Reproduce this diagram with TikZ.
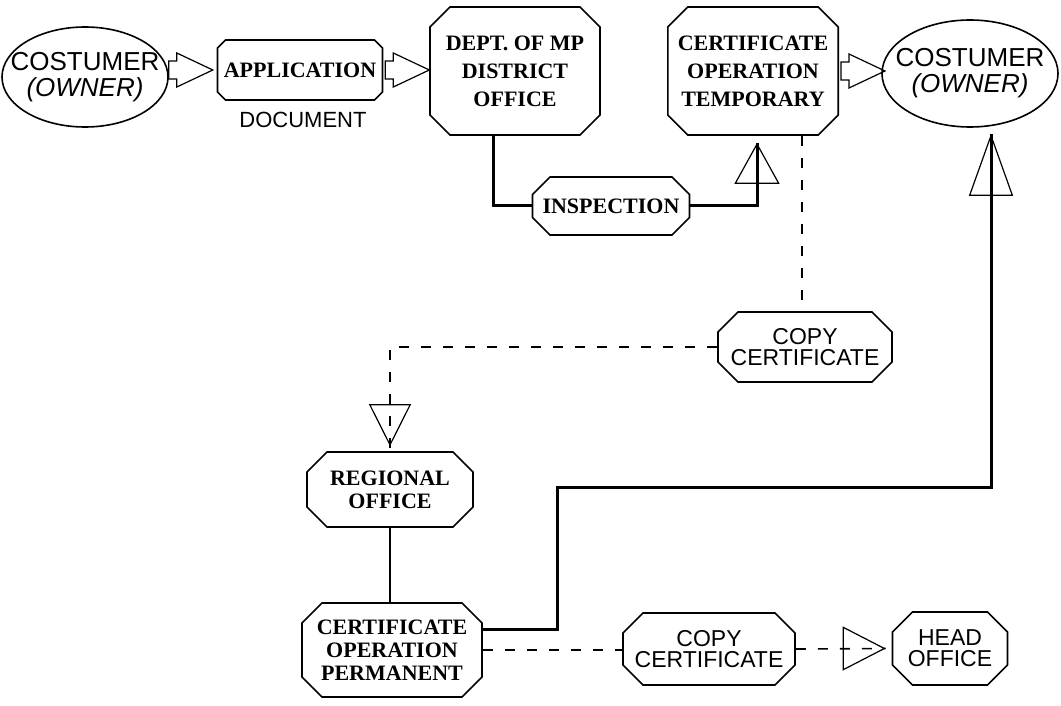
\documentclass[tikz,border=0pt]{standalone}
\usepackage{fontspec}
\setmainfont{Liberation Serif}
\setsansfont{Liberation Sans}
\usetikzlibrary{shapes.geometric,shapes.misc,arrows.meta}

\tikzset{
  box/.style={draw, line width=0.8pt, chamfered rectangle,
    chamfered rectangle xsep=5pt, chamfered rectangle ysep=5pt,
    inner sep=0pt, align=center, font=\bfseries\fontsize{11}{14}\selectfont},
  lowbox/.style={box, font=\bfseries\fontsize{11}{11.5}\selectfont},
  sansbox/.style={box, font=\sffamily\fontsize{11.5}{10.5}\selectfont},
  oval/.style={draw, line width=0.8pt, ellipse, inner xsep=-10pt, inner ysep=0pt,
    align=center, font=\sffamily\fontsize{13}{13}\selectfont},
  sidetext/.style={font=\sffamily\fontsize{11}{11}\selectfont},
  thickline/.style={line width=1.5pt},
  thinline/.style={line width=0.7pt},
  dashline/.style={line width=0.8pt, dash pattern=on 5pt off 6pt},
  opentip/.style 2 args={line width=0.6pt, -{Triangle[open, length=#1, width=#2]}},
  blockarrow/.pic={\draw[line width=0.6pt] (0,-9) -- (8,-9) -- (8,-17) -- (44,0)
    -- (8,17) -- (8,9) -- (0,9) -- cycle;}
}

\begin{document}
\begin{tikzpicture}[x=0.5pt,y=-0.5pt]
  \useasboundingbox (0,0) rectangle (1061,706);

  % top row
  \node[oval, minimum width=83pt, minimum height=50pt] (cust1) at (85,77) {COSTUMER\\\textit{(OWNER)}};
  \node[box, minimum width=82.5pt, minimum height=30pt,
    chamfered rectangle xsep=2pt, chamfered rectangle ysep=2pt] (app) at (300,70) {APPLICATION};
  \node[sidetext] (doc) at (303,120) {DOCUMENT};
  \node[box, minimum width=85pt, minimum height=64pt] (dept) at (515,71) {DEPT. OF MP\\DISTRICT\\OFFICE};
  \node[box, minimum width=85pt, minimum height=64pt] (temp) at (753,71) {CERTIFICATE\\OPERATION\\TEMPORARY};
  \node[oval, minimum width=88pt, minimum height=53.5pt] (cust2) at (970,73.5) {COSTUMER\\\textit{(OWNER)}};
  \node[box, minimum width=78.5pt, minimum height=29pt] (insp) at (611,206) {INSPECTION};

  % lower part
  \node[sansbox, minimum width=87pt, minimum height=35pt] (copy1) at (805,347) {COPY\\CERTIFICATE};
  \node[lowbox, minimum width=83pt, minimum height=37.5pt] (region) at (390,489.5) {REGIONAL\\OFFICE};
  \node[lowbox, minimum width=90pt, minimum height=47pt] (perm) at (392,650) {CERTIFICATE\\OPERATION\\PERMANENT};
  \node[sansbox, minimum width=86pt, minimum height=36pt] (copy2) at (709,649) {COPY\\CERTIFICATE};
  \node[sansbox, minimum width=57.5pt, minimum height=36.5pt] (head) at (950,648.5) {HEAD\\OFFICE};

  % block arrows
  \pic at (cust1.east |- app.west) {blockarrow};
  \pic at ([xshift=1pt]app.east) {blockarrow};
  \pic at ([xshift=1pt]temp.east) {blockarrow};

  % solid connectors
  \draw[thickline] ([xshift=-11pt]dept.south) |- (insp.west);
  \draw[thickline] (insp.east) -| ([xshift=2pt,yshift=-3.5pt]temp.south);
  \draw[opentip={20.5pt}{22.5pt}] ([xshift=2pt,yshift=-24pt]temp.south) -- ([xshift=2pt,yshift=-3.5pt]temp.south);

  \coordinate (bend) at (557,487);
  \draw[thickline] ([yshift=10.5pt]perm.east) -| (bend) -| ([xshift=10.5pt,yshift=-3pt]cust2.south);
  \draw[opentip={31pt}{22pt}] ([xshift=10.5pt,yshift=-34pt]cust2.south) -- ([xshift=10.5pt,yshift=-3pt]cust2.south);

  \draw[thinline] (region.south) -- (region.south |- perm.north);

  % dashed connectors
  \coordinate (tdash) at ([xshift=24.5pt]temp.south);
  \draw[dashline] (tdash) -- (tdash |- copy1.north);
  \draw[dashline] (copy1.west) -| (region.north);
  \draw[opentip={21pt}{21pt}] ([yshift=23.5pt]region.north) -- ([yshift=2.5pt]region.north);

  \draw[dashline] (perm.east) -- (perm.east -| copy2.west);
  \draw[dashline] (copy2.east) -- ([xshift=-3pt]head.west);
  \draw[opentip={21.5pt}{22pt}] ([xshift=-24.5pt]head.west) -- ([xshift=-3pt]head.west);
\end{tikzpicture}
\end{document}
